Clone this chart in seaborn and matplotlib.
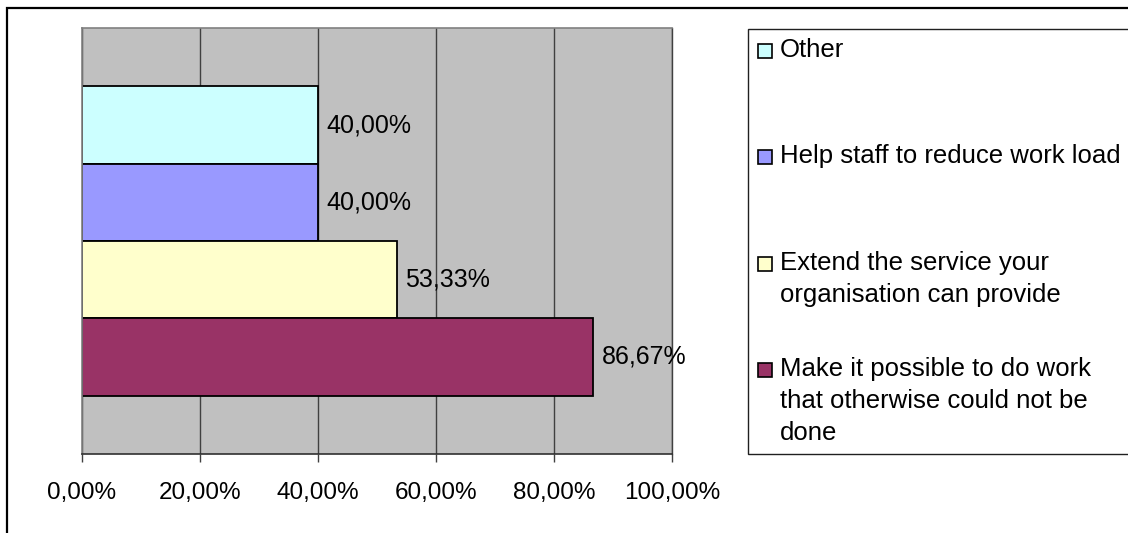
import matplotlib
matplotlib.use("Agg")
import matplotlib.pyplot as plt
from matplotlib.patches import Rectangle
import seaborn as sns
import pandas as pd

# Survey responses: share of respondents choosing each benefit
categories = [
    "Other",
    "Help staff to reduce work load",
    "Extend the service your organisation can provide",
    "Make it possible to do work that otherwise could not be done",
]
legend_labels = [
    "Other",
    "Help staff to reduce work load",
    "Extend the service your\norganisation can provide",
    "Make it possible to do work\nthat otherwise could not be\ndone",
]
values = [40.00, 40.00, 53.33, 86.67]
colors = ["#CCFFFF", "#9999FF", "#FFFFCC", "#993366"]
x_ticks = [0, 20, 40, 60, 80, 100]
x_tick_labels = ["0,00%", "20,00%", "40,00%", "60,00%", "80,00%", "100,00%"]

df = pd.DataFrame({"category": categories, "value": values})

W, H = 1128, 533
sns.set_theme(style="white")
plt.rcParams["font.family"] = ["Liberation Sans", "DejaVu Sans"]
FS_TICK = 17.5
FS_VALUE = 18
FS_LEGEND = 18.5

fig = plt.figure(figsize=(W / 100, H / 100), dpi=100)
fig.patch.set_facecolor("white")


def fx(px):
    return px / W


def fy(py):
    return 1 - py / H


# plot area in pixel coordinates
left, right, top, bottom = 82, 672, 28, 454
ax = fig.add_axes([fx(left), fy(bottom), (right - left) / W, (bottom - top) / H])
ax.set_facecolor("#C0C0C0")

sns.barplot(
    data=df, x="value", y="category", hue="category",
    palette=colors, saturation=1, width=1.0, orient="h",
    edgecolor="black", linewidth=1.3, legend=False, ax=ax,
)

ax.set_xlim(0, 100)
ax.set_ylim(3.5 + 0.755, -0.5 - 0.755)
ax.set_xticks(x_ticks)
ax.set_xticklabels(x_tick_labels, fontsize=FS_TICK, color="black")
ax.set_yticks([])
ax.set_xlabel("")
ax.set_ylabel("")
ax.grid(axis="x", color="#404040", linewidth=1.0)
ax.set_axisbelow(True)
ax.tick_params(axis="x", direction="out", length=6, width=1, color="#404040",
               pad=14, bottom=True)

for side in ("top", "left"):
    ax.spines[side].set_color("#808080")
    ax.spines[side].set_linewidth(1.2)
ax.spines["right"].set_color("#404040")
ax.spines["right"].set_linewidth(1.0)
ax.spines["bottom"].set_color("#303030")
ax.spines["bottom"].set_linewidth(1.2)

# value labels on each bar
for container, v in zip(ax.containers, values):
    label = f"{v:.2f}".replace(".", ",") + "%"
    ax.bar_label(container, labels=[label], padding=6, fontsize=FS_VALUE,
                 color="black", label_type="edge")

# legend panel
fig.patches.append(Rectangle((fx(748), fy(454)), fx(1140) - fx(748), fy(29) - fy(454),
                             transform=fig.transFigure, facecolor="white",
                             edgecolor="#202020", linewidth=1.0, zorder=1))
baselines = [57, 163, 270, 376]
line_step = 32
for lab, col, base in zip(legend_labels, colors, baselines):
    fig.patches.append(Rectangle((fx(758), fy(base + 1)), 14 / W, 14 / H,
                                 transform=fig.transFigure, facecolor=col,
                                 edgecolor="black", linewidth=1.2, zorder=2))
    for i, line in enumerate(lab.split("\n")):
        fig.text(fx(780), fy(base + i * line_step), line, fontsize=FS_LEGEND,
                 ha="left", va="baseline", color="black", zorder=3)

# outer chart frame
fig.patches.append(Rectangle((fx(7), fy(545)), fx(1140) - fx(7), fy(8) - fy(545),
                             transform=fig.transFigure, facecolor="none",
                             edgecolor="black", linewidth=1.6, zorder=5))

fig.savefig("out.png", dpi=100)
